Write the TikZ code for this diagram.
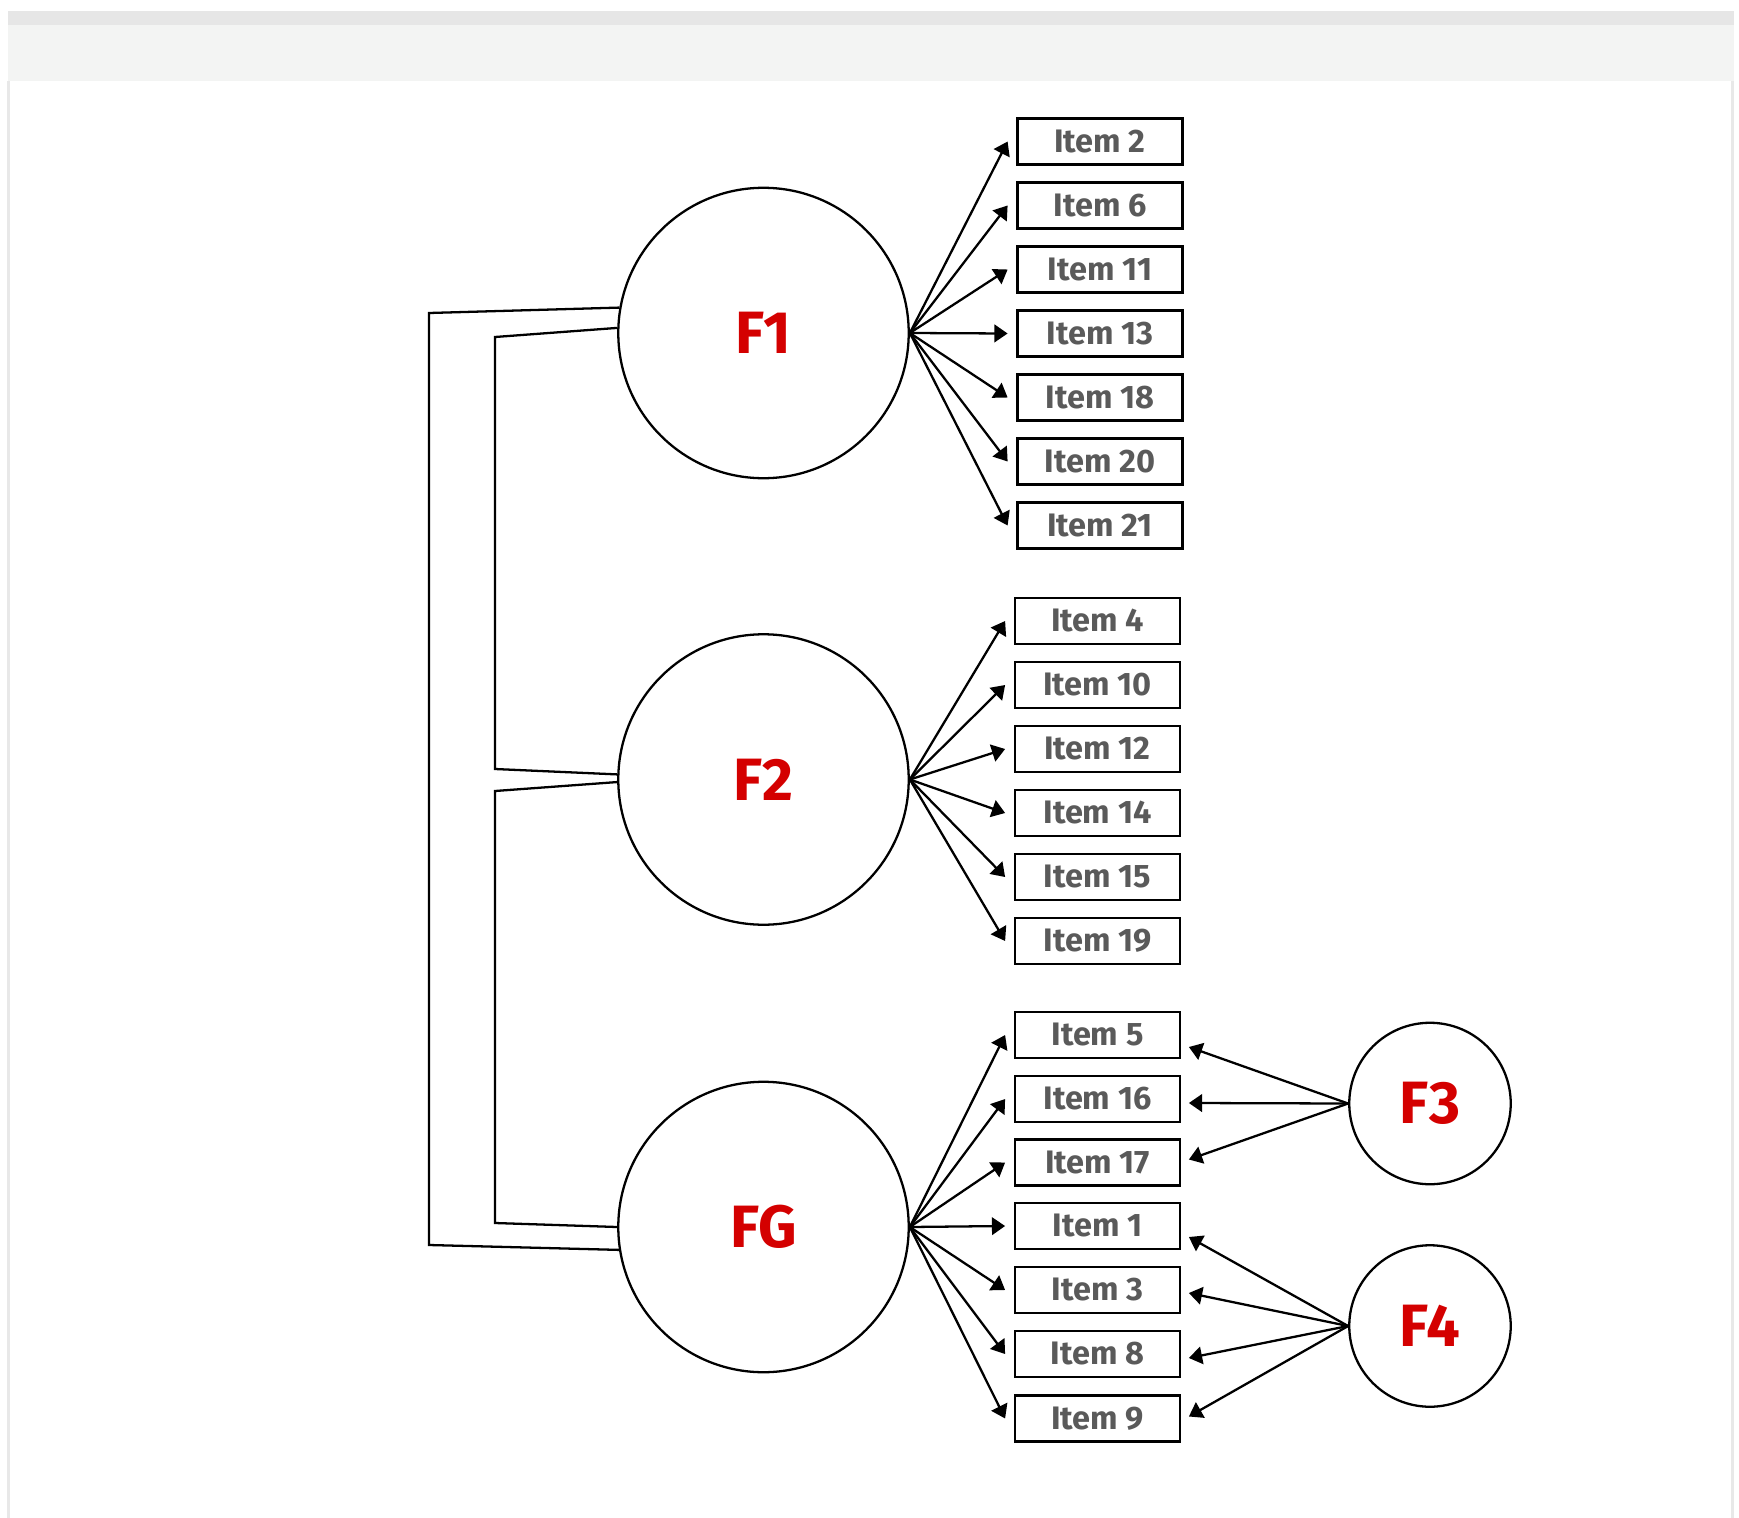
\documentclass[tikz,border=0pt]{standalone}
\usepackage{fontspec}
\setmainfont{Fira Sans}
\usetikzlibrary{arrows.meta}
\definecolor{itemgray}{HTML}{5A5A5A}
\definecolor{fred}{HTML}{D40000}
\definecolor{banddark}{HTML}{E6E6E6}
\definecolor{bandlight}{HTML}{F3F4F3}
\definecolor{sideline}{HTML}{E8E8E8}
\tikzset{
  itembox/.style={draw=black, line width=1.6pt, minimum width=3.30cm, minimum height=0.92cm,
    inner sep=0pt, font=\fontsize{18.5}{20}\selectfont\bfseries, text=itemgray},
  bigfac/.style={draw=black, circle, line width=1.3pt, minimum size=5.81cm, inner sep=0pt,
    font=\fontsize{34}{38}\selectfont\bfseries, text=fred},
  smallfac/.style={draw=black, circle, line width=1.3pt, minimum size=3.23cm, inner sep=0pt,
    font=\fontsize{34}{38}\selectfont\bfseries, text=fred},
  arr/.style={line width=1.3pt, -{Triangle[length=7.5pt,width=10pt]}},
  link/.style={line width=1.3pt, line join=miter}
}
\begin{document}
\begin{tikzpicture}[x=0.02cm, y=-0.02cm]
\useasboundingbox (0,0) rectangle (1739,1518);
\fill[white] (0,0) rectangle (1739,1518);
% frame
\fill[banddark] (8,11) rectangle (1734,25);
\fill[bandlight] (8,25) rectangle (1734,81);
\fill[sideline] (7,81) rectangle (10,1518);
\fill[sideline] (1731,81) rectangle (1734,1518);

% factors
\node[bigfac] (F1) at (763.5,333) {F1};
\node[bigfac] (F2) at (763.5,779.5) {F2};
\node[bigfac] (FG) at (763.5,1227) {FG};
\node[smallfac] (F3) at (1430,1103.5) {F3};
\node[smallfac] (F4) at (1430,1326) {F4};

% F1 items
\node[itembox] (i2)  at (1100,141.5) {Item 2};
\node[itembox] (i6)  at (1100,205.5) {Item 6};
\node[itembox] (i11) at (1100,269.5) {Item 11};
\node[itembox] (i13) at (1100,333.5) {Item 13};
\node[itembox] (i18) at (1100,397.5) {Item 18};
\node[itembox] (i20) at (1100,461.5) {Item 20};
\node[itembox] (i21) at (1100,525.5) {Item 21};
% F2 items
\node[itembox] (i4)  at (1097.5,621) {Item 4};
\node[itembox] (i10) at (1097.5,685) {Item 10};
\node[itembox] (i12) at (1097.5,749) {Item 12};
\node[itembox] (i14) at (1097.5,813) {Item 14};
\node[itembox] (i15) at (1097.5,877) {Item 15};
\node[itembox] (i19) at (1097.5,941) {Item 19};
% FG items
\node[itembox] (i5)  at (1097.5,1035) {Item 5};
\node[itembox] (i16) at (1097.5,1099) {Item 16};
\node[itembox] (i17) at (1097.5,1162.5) {Item 17};
\node[itembox] (i1)  at (1097.5,1226) {Item 1};
\node[itembox] (i3)  at (1097.5,1290) {Item 3};
\node[itembox] (i8)  at (1097.5,1354) {Item 8};
\node[itembox] (i9)  at (1097.5,1418.5) {Item 9};

% loadings
\foreach \t in {i2,i6,i11,i13,i18,i20,i21}
  \draw[arr] (F1.east) -- ([xshift=-0.17cm]\t.west);
\foreach \t in {i4,i10,i12,i14,i15,i19}
  \draw[arr] (F2.east) -- ([xshift=-0.17cm]\t.west);
\foreach \t in {i5,i16,i17,i1,i3,i8,i9}
  \draw[arr] (FG.east) -- ([xshift=-0.17cm]\t.west);

\draw[arr] (F3.west) -- ([xshift=0.15cm,yshift=-0.24cm]i5.east);
\draw[arr] (F3.west) -- ([xshift=0.15cm,yshift=-0.08cm]i16.east);
\draw[arr] (F3.west) -- ([xshift=0.15cm,yshift=0.06cm]i17.east);
\draw[arr] (F4.west) -- ([xshift=0.15cm,yshift=-0.22cm]i1.east);
\draw[arr] (F4.west) -- ([xshift=0.15cm,yshift=-0.06cm]i3.east);
\draw[arr] (F4.west) -- ([xshift=0.15cm,yshift=-0.08cm]i8.east);
\draw[arr] (F4.west) -- ([xshift=0.15cm,yshift=0.04cm]i9.east);

% correlations
\draw[link] (F1.170.6) -- (429,313) -- (429,1245) -- (FG.189.4);
\draw[link] (F1.178.8) -- (495,337) -- (495,769) -- (F2.178.2);
\draw[link] (F2.181.8) -- (495,791) -- (495,1223) -- (FG.180.8);
\end{tikzpicture}
\end{document}
